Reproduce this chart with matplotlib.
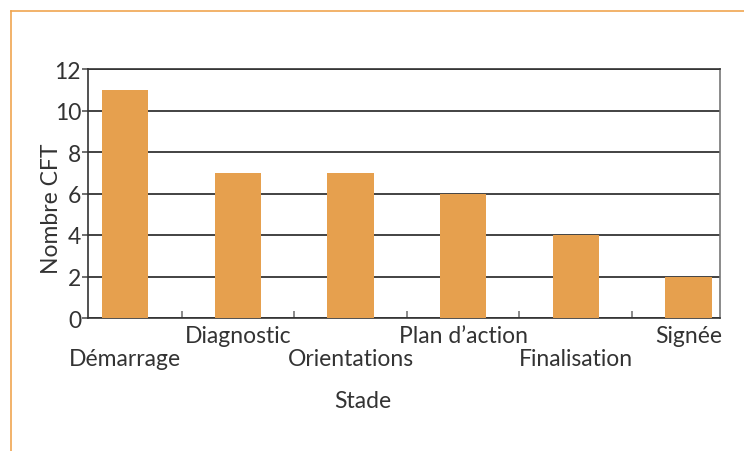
import matplotlib
matplotlib.use('Agg')
import matplotlib.pyplot as plt
from matplotlib.lines import Line2D

# Data
stades = ['Démarrage', 'Diagnostic', 'Orientations', "Plan d\u2019action", 'Finalisation', 'Signée']
nombre_cft = [11, 7, 7, 6, 4, 2]

bar_color = '#E6A04E'
frame_color = '#F0A550'
text_color = '#333333'

plt.rcParams['font.family'] = ['Lato', 'DejaVu Sans']

W, H = 744, 452
fig = plt.figure(figsize=(W / 100, H / 100), dpi=100)
ax = fig.add_axes([88 / W, 1 - 319 / H, (720 - 88) / W, (319 - 70) / H])

x = list(range(len(stades)))
ax.bar(x, nombre_cft, width=0.41, color=bar_color, zorder=3)

ax.set_ylim(0, 12)
ax.set_xlim(-0.33, 5.28)
ax.set_yticks(range(0, 13, 2))
ax.yaxis.grid(True, color='#222222', linewidth=1.2, zorder=1)
ax.tick_params(axis='y', labelsize=16.5, colors='#555555', labelcolor=text_color,
               length=4, width=1.2, pad=1)

# boundary ticks between categories, labels staggered on two rows
ax.set_xticks([i + 0.5 for i in x[:-1]])
ax.set_xticklabels([])
ax.tick_params(axis='x', direction='in', length=5, width=1.2, colors='#777777')
label_tf = matplotlib.transforms.blended_transform_factory(ax.transData, fig.transFigure)
for i, name in enumerate(stades):
    base_px = 343 if i % 2 else 366
    fig.text(i, 1 - base_px / H, name, ha='center', va='baseline',
             fontsize=16.5, color=text_color, transform=label_tf)

for side in ['left', 'bottom', 'top', 'right']:
    ax.spines[side].set_color('#333333')
    ax.spines[side].set_linewidth(1.2)
ax.spines['right'].set_color('#777777')

fig.text(363 / W, 1 - 408 / H, 'Stade', ha='center', va='baseline', fontsize=16.5, color=text_color)
fig.text(52 / W, 1 - 209 / H, 'Nombre CFT', ha='center', va='center', rotation=90,
         fontsize=16.5, color=text_color)

# orange frame on top and left
fig.add_artist(Line2D([11 / W, 1], [1 - 12 / H, 1 - 12 / H], color=frame_color, linewidth=1.2))
fig.add_artist(Line2D([11 / W, 11 / W], [0, 1 - 12 / H], color=frame_color, linewidth=1.2))

fig.savefig('out.png', dpi=100)
